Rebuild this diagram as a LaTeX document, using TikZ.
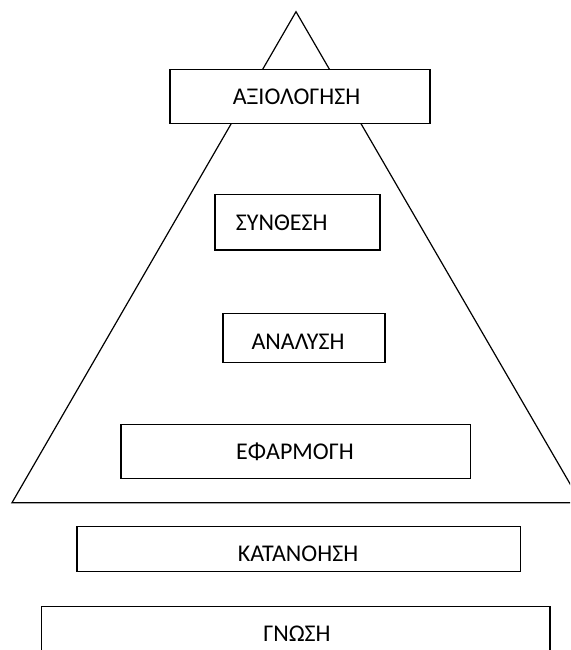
\documentclass[tikz,border=0pt]{standalone}
\usepackage{fontspec}
\setmainfont{Carlito}
\begin{document}
\begin{tikzpicture}[x=1pt,y=-1pt,
  box/.style={draw, line width=1.3pt, fill=white, inner sep=0pt, outer sep=0pt},
  lbl/.style={font=\fontsize{24}{28}\selectfont, inner sep=0pt}]
\useasboundingbox (0,0) rectangle (570,650);
\clip (0,0) rectangle (570,650);
\coordinate (apex) at (296,11.7);
\coordinate (bl) at (12,502.7);
\coordinate (br) at (581,502.7);
\draw[line width=1.2pt, line join=miter] (apex) -- (bl) -- (br) -- cycle;
% boxes
\node[box, minimum width=260pt, minimum height=54pt] (b1) at (300,96.3) {};
\node[box, minimum width=165pt, minimum height=55.3pt] (b2) at (297.5,222.35) {};
\node[box, minimum width=162pt, minimum height=49.4pt] (b3) at (304,338) {};
\node[box, minimum width=349.7pt, minimum height=53.6pt] (b4) at (295.85,451.5) {};
\node[box, minimum width=443.5pt, minimum height=45.2pt] (b5) at (298.75,549.1) {};
\node[box, minimum width=508.3pt, minimum height=60pt] (b6) at (295.85,636.3) {};
% labels
\node[lbl] (t1) at (296.5,97) {ΑΞΙΟΛΟΓΗΣΗ};
\node[lbl, anchor=west] (t2) at (235.7,223) {ΣΥΝΘΕΣΗ};
\node[lbl] (t3) at (298,341.5) {ΑΝΑΛΥΣΗ};
\node[lbl] (t4) at (295,452) {ΕΦΑΡΜΟΓΗ};
\node[lbl] (t5) at (298,554) {ΚΑΤΑΝΟΗΣΗ};
\node[lbl] (t6) at (297,634) {ΓΝΩΣΗ};
\end{tikzpicture}
\end{document}
